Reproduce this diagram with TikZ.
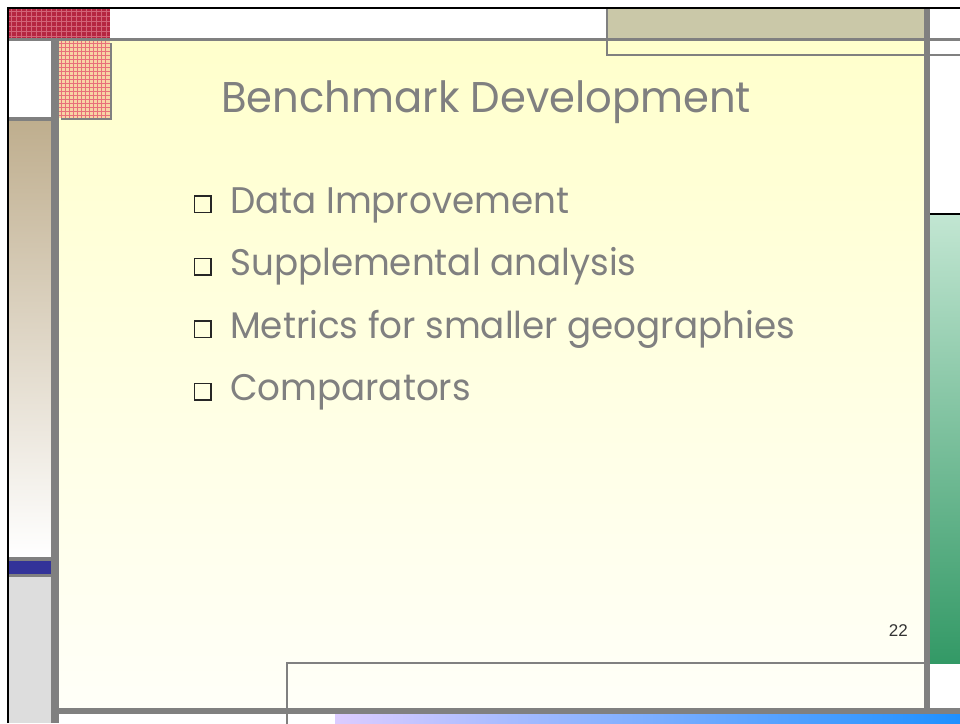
\documentclass[tikz,border=0pt]{standalone}
\usepackage{fontspec}
\usepackage{xcolor}
\usepackage{graphicx}
\setmainfont{Poppins}
\newfontfamily\pagefont{Liberation Sans}
\definecolor{barGray}{HTML}{808080}
\definecolor{textGray}{HTML}{808080}
\definecolor{paleYellow}{HTML}{FFFFCC}
\definecolor{offWhite}{HTML}{FFFFF8}
\definecolor{khaki}{HTML}{CAC8A8}
\definecolor{tanTop}{HTML}{BFAE8E}
\definecolor{navy}{HTML}{333399}
\definecolor{lightGray}{HTML}{DDDDDD}
\definecolor{mintTop}{HTML}{C2E6D2}
\definecolor{seaGreen}{HTML}{339966}
\definecolor{lavender}{HTML}{DCCCFF}
\definecolor{dodger}{HTML}{1E90FF}
\definecolor{crimson}{HTML}{B52641}
\definecolor{crimsonLine}{HTML}{D26478}
\definecolor{peach}{HTML}{F8D4A4}
\definecolor{peachLine}{HTML}{E8707A}
\newcommand{\narrow}[1]{\scalebox{0.965}[1]{#1}}
\usetikzlibrary{positioning}

\begin{document}
\begin{tikzpicture}[x=1pt,y=-1pt]
  \useasboundingbox (0,0) rectangle (960,723);
  \tikzstyle{GrayBar}=[fill=barGray]
  \tikzstyle{ThinFrame}=[draw=barGray,line width=1.2pt]
  \tikzstyle{Title}=[text=textGray,font=\fontsize{43}{50}\selectfont,inner sep=0pt]
  \tikzstyle{Item}=[text=textGray,font=\fontsize{37}{44}\selectfont,inner sep=0pt,anchor=base west]
  \tikzstyle{Box}=[draw=black!85,line width=1.5pt,minimum size=16.5pt,inner sep=0pt]
  % slide area
  \fill[white] (0,0) rectangle (960,723);
  \shade[top color=paleYellow,bottom color=offWhite] (59,41) rectangle (924,708);
  % top strip
  \fill[crimson] (9,9) rectangle (110,38);
  \foreach \x in {11,16,...,108} \draw[crimsonLine,line width=0.8pt] (\x,9) -- (\x,38);
  \foreach \y in {11,16,...,36} \draw[crimsonLine,line width=0.8pt] (9,\y) -- (110,\y);
  \fill[khaki] (607,9) rectangle (924,38);
  \draw[ThinFrame] (607,9) -- (607,55) -- (960,55);
  \fill[GrayBar] (9,38) rectangle (960,41);
  % left strip
  \fill[barGray] (9,117) rectangle (51,121);
  \shade[top color=tanTop,middle color=tanTop!30!white,bottom color=white] (9,121) rectangle (51,557);
  \fill[GrayBar] (9,557) rectangle (51,561);
  \fill[navy] (9,561) rectangle (51,574);
  \fill[GrayBar] (9,574) rectangle (51,577);
  \fill[lightGray] (9,577) rectangle (51,723);
  \fill[GrayBar] (51,41) rectangle (59,723);
  % plaid corner
  \fill[barGray] (61,43) rectangle (112,120);
  \fill[peach] (59,41) rectangle (110,118);
  \foreach \x in {61,65,...,108} \draw[peachLine,line width=0.7pt] (\x,41) -- (\x,118);
  \foreach \y in {43,47,...,116} \draw[peachLine,line width=0.7pt] (59,\y) -- (110,\y);
  % right strip
  \draw[black,line width=2pt] (930,214) -- (960,214);
  \shade[top color=mintTop,middle color=mintTop!60!seaGreen,bottom color=seaGreen] (930,215) rectangle (960,663);
  \fill[GrayBar] (924,9) rectangle (930,714);
  % bottom strip
  \draw[ThinFrame] (287,730) -- (287,663) -- (924,663);
  \fill[GrayBar] (59,708) rectangle (960,714);
  \shade[left color=lavender,right color=dodger] (335,714) rectangle (960,723);
  % outer frame
  \draw[black,line width=2.5pt] (8,723) -- (8,8) -- (960,8);
  % texts
  \node[Title,anchor=base west] (title) at (221,112) {\scalebox{0.97}[1]{Benchmark Development}};
  \node[Box] (b1) at (202.5,204) {};
  \node[Box] (b2) at (202.5,266.5) {};
  \node[Box] (b3) at (202.5,329) {};
  \node[Box] (b4) at (202.5,391.5) {};
  \node[Item] (i1) at (230,213) {\narrow{Data Improvement}};
  \node[Item] (i2) at (230,275.5) {\narrow{Supplemental analysis}};
  \node[Item] (i3) at (230,338) {\narrow{Metrics for smaller geographies}};
  \node[Item] (i4) at (230,400.5) {\narrow{Comparators}};
  \node[anchor=base east,inner sep=0pt,text=black!80,font=\pagefont\fontsize{17}{20}\selectfont] (page) at (908,636) {22};
\end{tikzpicture}
\end{document}
